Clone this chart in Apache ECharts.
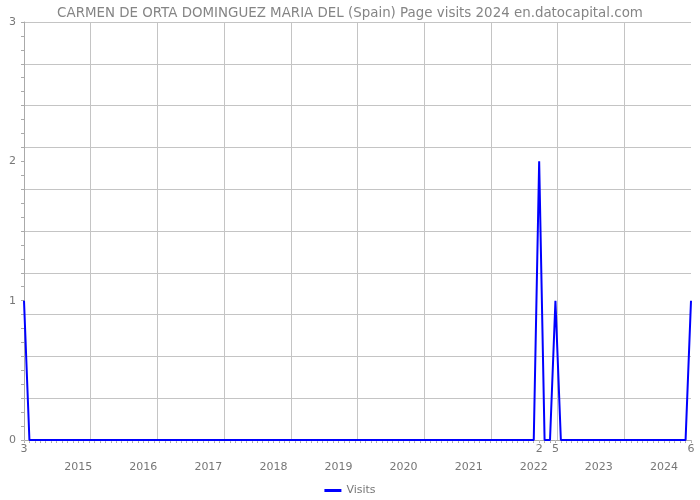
<!DOCTYPE html>
<html>
<head>
<meta charset="utf-8">
<script src="https://cdn.jsdelivr.net/npm/echarts@6/dist/echarts.min.js"></script>
<style>html,body{margin:0;padding:0;background:#fff}#c{width:700px;height:500px}</style>
</head>
<body>
<div id="c"></div>
<script>
// Monthly page visits, March 2014 through June 2024
const months2014 = [3,4,5,6,7,8,9,10,11,12];
const visits2014 = [1,0,0,0,0,0,0,0,0,0];
const visits2015 = [0,0,0,0,0,0,0,0,0,0,0,0];
const visits2016 = [0,0,0,0,0,0,0,0,0,0,0,0];
const visits2017 = [0,0,0,0,0,0,0,0,0,0,0,0];
const visits2018 = [0,0,0,0,0,0,0,0,0,0,0,0];
const visits2019 = [0,0,0,0,0,0,0,0,0,0,0,0];
const visits2020 = [0,0,0,0,0,0,0,0,0,0,0,0];
const visits2021 = [0,0,0,0,0,0,0,0,0,0,0,0];
const visits2022 = [0,2,0,0,1,0,0,0,0,0,0,0];
const visits2023 = [0,0,0,0,0,0,0,0,0,0,0,0];
const months2024 = [1,2,3,4,5,6];
const visits2024 = [0,0,0,0,0,1];
const fullYearMonths = [1,2,3,4,5,6,7,8,9,10,11,12];
const yTickLabels = [0,1,2,3];
const seriesName = 'Visits';

const perYear = [
  [2014, months2014, visits2014],
  [2015, fullYearMonths, visits2015],
  [2016, fullYearMonths, visits2016],
  [2017, fullYearMonths, visits2017],
  [2018, fullYearMonths, visits2018],
  [2019, fullYearMonths, visits2019],
  [2020, fullYearMonths, visits2020],
  [2021, fullYearMonths, visits2021],
  [2022, fullYearMonths, visits2022],
  [2023, fullYearMonths, visits2023],
  [2024, months2024, visits2024]
];
const categories = [], values = [], monthOf = [], yearOf = [];
perYear.forEach(([y, ms, vs]) => {
  ms.forEach((m, i) => {
    categories.push(y + '-' + (m < 10 ? '0' + m : m));
    values.push(vs[i]);
    monthOf.push(m);
    yearOf.push(y);
  });
});

const FONT = 'DejaVu Sans';
const chart = echarts.init(document.getElementById('c'), null, {renderer: 'canvas'});
chart.setOption({
  animation: false,
  backgroundColor: '#fff',
  textStyle: {fontFamily: FONT},
  title: {
    text: 'CARMEN DE ORTA DOMINGUEZ MARIA DEL (Spain) Page visits 2024 en.datocapital.com',
    left: 'center', top: 2,
    textStyle: {fontFamily: FONT, fontSize: 13.4, fontWeight: 'normal', color: '#858585'}
  },
  legend: {
    bottom: -1, left: 'center',
    data: [seriesName],
    icon: 'rect', itemWidth: 17, itemHeight: 3,
    textStyle: {fontFamily: FONT, fontSize: 11, color: '#777'}
  },
  grid: {left: 24, right: 9, top: 22, bottom: 60, containLabel: false},
  xAxis: [
    {
      type: 'category', data: categories, boundaryGap: false,
      axisLine: {show: true, lineStyle: {color: '#aaa', width: 1}},
      axisTick: {show: true, interval: 0, length: 3, lineStyle: {color: '#aaa'}},
      axisLabel: {
        interval: 0, margin: 4, fontFamily: FONT, fontSize: 11, color: '#777',
        formatter: (v, i) => values[i] > 0 ? String(monthOf[i]) : ''
      },
      splitLine: {show: false}
    },
    {
      type: 'category', data: categories, boundaryGap: false, position: 'bottom', offset: 18,
      axisLine: {show: false},
      axisTick: {show: true, interval: 0, length: 2, lineStyle: {color: '#bbb'}},
      axisLabel: {
        interval: 0, margin: 4, fontFamily: FONT, fontSize: 11, color: '#777',
        formatter: (v, i) => monthOf[i] === 1 ? String(yearOf[i]) : ''
      },
      splitLine: {show: false}
    },
    {
      type: 'value', min: 0, max: 10, interval: 1, show: true, position: 'top',
      axisLine: {show: false}, axisTick: {show: false}, axisLabel: {show: false},
      splitLine: {show: true, showMinLine: false, showMaxLine: false, lineStyle: {color: '#c4c4c4', width: 1}}
    }
  ],
  yAxis: [
    {
      type: 'value', min: 0, max: 3, interval: 0.1,
      axisLine: {show: true, lineStyle: {color: '#aaa', width: 1}},
      axisTick: {show: true, length: 3, lineStyle: {color: '#aaa'}},
      axisLabel: {
        margin: 8, fontFamily: FONT, fontSize: 11, color: '#777',
        formatter: v => {
          const r = Math.round(v);
          return (Math.abs(v - r) < 1e-6 && yTickLabels.indexOf(r) >= 0) ? String(r) : '';
        }
      },
      splitLine: {show: false}
    },
    {
      type: 'value', min: 0, max: 3, interval: 0.3, position: 'left',
      axisLine: {show: false}, axisTick: {show: false}, axisLabel: {show: false},
      splitLine: {show: true, showMinLine: false, lineStyle: {color: '#c4c4c4', width: 1}}
    }
  ],
  series: [{
    name: seriesName, type: 'line', data: values,
    xAxisIndex: 0, yAxisIndex: 0,
    showSymbol: false, symbol: 'none',
    lineStyle: {color: '#0000ff', width: 2},
    itemStyle: {color: '#0000ff'},
    z: 5
  }]
});
</script>
</body>
</html>
